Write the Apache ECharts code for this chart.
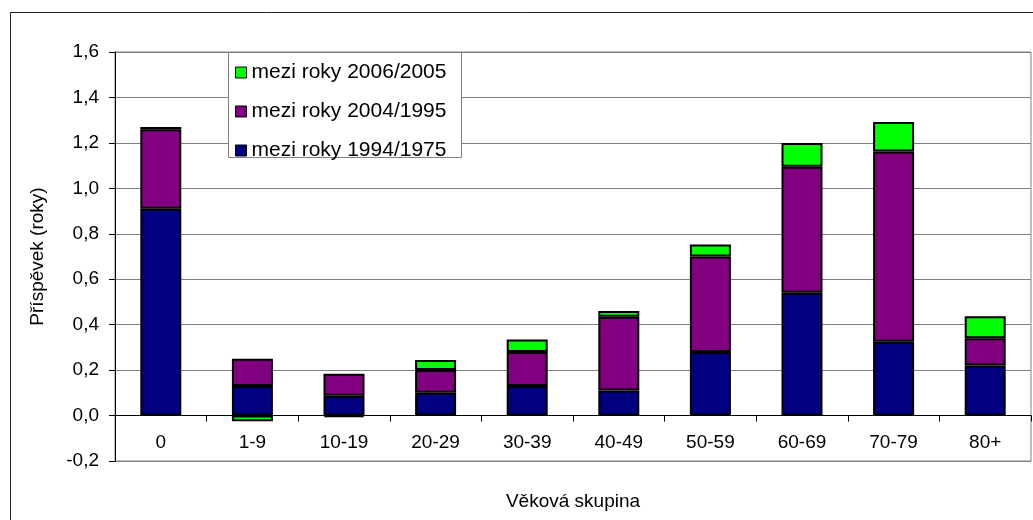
<!DOCTYPE html>
<html lang="cs">
<head>
    <meta charset="UTF-8">
    <title>Příspěvek věkových skupin</title>
    <script src="https://cdn.jsdelivr.net/npm/echarts@6/dist/echarts.min.js"></script>
    <style>
        body { margin: 0; background: #fff; }
        #main { width: 1033px; height: 520px; }
    </style>
</head>
<body>
<div id="main"></div>
<script>
    // vekove skupiny
    var skupiny = ['0', '1-9', '10-19', '20-29', '30-39', '40-49', '50-59', '60-69', '70-79', '80+'];
    // prispevky (roky) po obdobich
    var obdobi1994_1975 = [0.91, 0.13, 0.087, 0.10, 0.13, 0.11, 0.28, 0.54, 0.325, 0.22];
    var obdobi2004_1995 = [0.35, 0.12, 0.097, 0.10, 0.15, 0.325, 0.42, 0.555, 0.837, 0.12];
    var obdobi2006_2005 = [0.01, -0.025, -0.007, 0.045, 0.055, 0.025, 0.053, 0.105, 0.13, 0.097];
    var nazvy = ['mezi roky 2006/2005', 'mezi roky 2004/1995', 'mezi roky 1994/1975'];

    var font = "'Liberation Sans', Arial, sans-serif";
    var myChart = echarts.init(document.getElementById('main'));

    function sloupec(name, data, color) {
        return {
            name: name,
            type: 'bar',
            stack: 'celkem',
            barWidth: 41,
            data: data,
            itemStyle: { color: color, borderColor: '#000', borderWidth: 2 }
        };
    }

    var option = {
        animation: false,
        grid: {
            left: 115, right: 2, top: 52, bottom: 59,
            outerBoundsMode: 'none',
            show: true, borderColor: '#808080', borderWidth: 1
        },
        graphic: [
            {   // ramecek grafu
                type: 'rect', z: 0,
                shape: { x: 10.5, y: 12.5, width: 1100, height: 600 },
                style: { fill: null, stroke: '#222', lineWidth: 1 }
            },
            {   // ramecek legendy
                type: 'rect', z: 10,
                shape: { x: 228.5, y: 52.5, width: 233, height: 105 },
                style: { fill: '#fff', stroke: '#808080', lineWidth: 1 }
            }
        ],
        legend: {
            z: 11,
            orient: 'vertical',
            left: 228, top: 52,
            padding: [10, 8, 1, 7],
            icon: 'rect',
            itemWidth: 11, itemHeight: 11,
            itemGap: 18,
            data: nazvy,
            itemStyle: { borderColor: '#000', borderWidth: 1 },
            textStyle: { fontFamily: font, fontSize: 21, color: '#000', lineHeight: 20 }
        },
        xAxis: {
            type: 'category',
            data: skupiny,
            // osa kategorii lezi na nule (0,2 = 409/9 px nad spodnim okrajem)
            offset: -409 / 9,
            name: 'Věková skupina',
            nameLocation: 'middle',
            nameGap: 77,
            nameTextStyle: { fontFamily: font, fontSize: 19, color: '#000' },
            axisLine: { onZero: false, lineStyle: { color: '#000', width: 1 } },
            axisTick: { show: true, length: 6, lineStyle: { color: '#000' } },
            axisLabel: { fontFamily: font, fontSize: 19, color: '#000', margin: 18, interval: 0 }
        },
        yAxis: {
            type: 'value',
            min: -0.2, max: 1.6, interval: 0.2,
            name: 'Příspěvek (roky)',
            nameLocation: 'middle',
            nameGap: 68,
            nameTextStyle: { fontFamily: font, fontSize: 19, color: '#000' },
            axisLine: { show: true, lineStyle: { color: '#000', width: 1 } },
            axisTick: { show: true, length: 6, lineStyle: { color: '#000' } },
            axisLabel: {
                fontFamily: font, fontSize: 19, color: '#000', margin: 16,
                formatter: function (v) { return v.toFixed(1).replace('.', ','); }
            },
            splitLine: { show: true, lineStyle: { color: '#808080', width: 1 } }
        },
        series: [
            sloupec(nazvy[2], obdobi1994_1975, '#000080'),
            sloupec(nazvy[1], obdobi2004_1995, '#800080'),
            sloupec(nazvy[0], obdobi2006_2005, '#00ff00')
        ]
    };
    myChart.setOption(option);
</script>
</body>
</html>
